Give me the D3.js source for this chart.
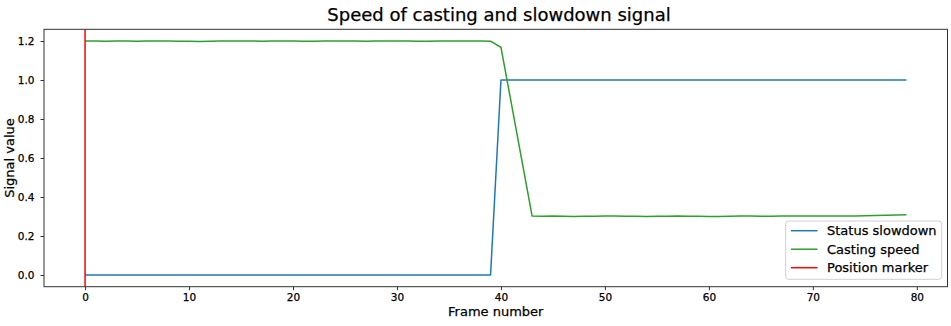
<!DOCTYPE html>
<html>
<head>
<meta charset="utf-8">
<script src="https://cdn.jsdelivr.net/npm/d3@7"></script>
<style>
  html, body { margin: 0; padding: 0; background: #fff; }
  svg { display: block; font-family: "DejaVu Sans", sans-serif; }
  svg text { stroke: #000; stroke-width: 0.25px; paint-order: stroke; }
</style>
</head>
<body>
<svg id="chart" width="951" height="326"></svg>
<script>
// Slowdown status flag per frame (0 = normal, 1 = slowdown)
const statusSlowdown = [
  0,0,0,0,0,0,0,0,0,0,
  0,0,0,0,0,0,0,0,0,0,
  0,0,0,0,0,0,0,0,0,0,
  0,0,0,0,0,0,0,0,0,0,
  1,1,1,1,1,1,1,1,1,1,
  1,1,1,1,1,1,1,1,1,1,
  1,1,1,1,1,1,1,1,1,1,
  1,1,1,1,1,1,1,1,1,1
];

// Casting speed per frame
const castingSpeed = [
  1.200,1.200,1.199,1.200,1.200,1.199,1.200,1.200,1.200,1.199,
  1.199,1.198,1.199,1.200,1.200,1.200,1.200,1.199,1.200,1.200,
  1.200,1.199,1.199,1.200,1.200,1.200,1.200,1.199,1.200,1.200,
  1.200,1.200,1.199,1.199,1.200,1.200,1.200,1.200,1.200,1.199,
  1.168,0.880,0.590,0.302,
  0.301,0.302,0.301,0.300,0.301,0.301,0.302,0.302,0.301,0.301,
  0.300,0.301,0.301,0.302,0.301,0.301,0.300,0.300,0.301,0.302,
  0.302,0.301,0.301,0.302,0.302,0.302,0.302,0.303,0.303,0.303,
  0.303,0.304,0.305,0.306,0.308,0.309
];

// Frame where the position marker sits
const positionMarker = 0;

const xTicks = [0, 10, 20, 30, 40, 50, 60, 70, 80];
const yTicks = [0.0, 0.2, 0.4, 0.6, 0.8, 1.0, 1.2];

const legendLabels = ["Status slowdown", "Casting speed", "Position marker"];
const colors = { status: "#1f77b4", speed: "#2ca02c", marker: "#ff0000" };

const svg = d3.select("#chart");
const plot = { left: 44, right: 947.5, top: 29.3, bottom: 286.7 };

const x = d3.scaleLinear().domain([-3.95, 82.95]).range([plot.left, plot.right]);
const y = d3.scaleLinear().domain([-0.06, 1.26]).range([plot.bottom, plot.top]);

// Title
svg.append("text")
  .attr("x", 499).attr("y", 21)
  .attr("text-anchor", "middle")
  .attr("font-size", 18)
  .attr("fill", "#000")
  .text("Speed of casting and slowdown signal");

// Clip the data to the axes area
svg.append("clipPath").attr("id", "clip")
  .append("rect")
  .attr("x", plot.left).attr("y", plot.top)
  .attr("width", plot.right - plot.left).attr("height", plot.bottom - plot.top);

const g = svg.append("g").attr("clip-path", "url(#clip)");

const line = d3.line().x((d, i) => x(i)).y(d => y(d));

g.append("path")
  .datum(statusSlowdown)
  .attr("fill", "none")
  .attr("stroke", colors.status)
  .attr("stroke-width", 1.5)
  .attr("stroke-linejoin", "round")
  .attr("d", line);

g.append("path")
  .datum(castingSpeed)
  .attr("fill", "none")
  .attr("stroke", colors.speed)
  .attr("stroke-width", 1.5)
  .attr("stroke-linejoin", "round")
  .attr("d", line);

g.append("line")
  .attr("x1", x(positionMarker)).attr("x2", x(positionMarker))
  .attr("y1", plot.top).attr("y2", plot.bottom)
  .attr("stroke", colors.marker)
  .attr("stroke-width", 1.5);

// Axes
const xAxis = d3.axisBottom(x).tickValues(xTicks).tickSize(3.5).tickPadding(3.5)
  .tickFormat(d3.format("d"));
const yAxis = d3.axisLeft(y).tickValues(yTicks).tickSize(3.5).tickPadding(6)
  .tickFormat(d3.format(".1f"));

const gx = svg.append("g").attr("transform", `translate(0,${plot.bottom})`).call(xAxis);
const gy = svg.append("g").attr("transform", `translate(${plot.left},0)`).call(yAxis);

[gx, gy].forEach(a => {
  a.select(".domain").remove();
  a.selectAll(".tick line").attr("stroke", "#333").attr("stroke-width", 1);
  a.selectAll(".tick text")
    .attr("fill", "#000")
    .attr("font-size", 10.5)
    .attr("font-family", "DejaVu Sans, sans-serif");
});

// Frame around the axes
svg.append("rect")
  .attr("x", plot.left).attr("y", plot.top)
  .attr("width", plot.right - plot.left).attr("height", plot.bottom - plot.top)
  .attr("fill", "none")
  .attr("stroke", "#333")
  .attr("stroke-width", 1);

// Axis labels
svg.append("text")
  .attr("x", (plot.left + plot.right) / 2).attr("y", 316)
  .attr("text-anchor", "middle")
  .attr("font-size", 13)
  .text("Frame number");

svg.append("text")
  .attr("transform", `translate(14,${(plot.top + plot.bottom) / 2}) rotate(-90)`)
  .attr("text-anchor", "middle")
  .attr("font-size", 13)
  .text("Signal value");

// Legend
const legend = svg.append("g");
legend.append("rect")
  .attr("x", 785.7).attr("y", 221)
  .attr("width", 156).attr("height", 58.3)
  .attr("rx", 3)
  .attr("fill", "#fff").attr("fill-opacity", 0.8)
  .attr("stroke", "#d0d0d0").attr("stroke-width", 1);

const legendColors = [colors.status, colors.speed, colors.marker];
legendLabels.forEach((lab, i) => {
  const cy = 230.7 + i * 18.5;
  legend.append("line")
    .attr("x1", 791).attr("x2", 817.5)
    .attr("y1", cy).attr("y2", cy)
    .attr("stroke", legendColors[i]).attr("stroke-width", 1.5);
  legend.append("text")
    .attr("x", 827).attr("y", cy)
    .attr("dy", "0.35em")
    .attr("font-size", 13)
    .text(lab);
});
</script>
</body>
</html>
